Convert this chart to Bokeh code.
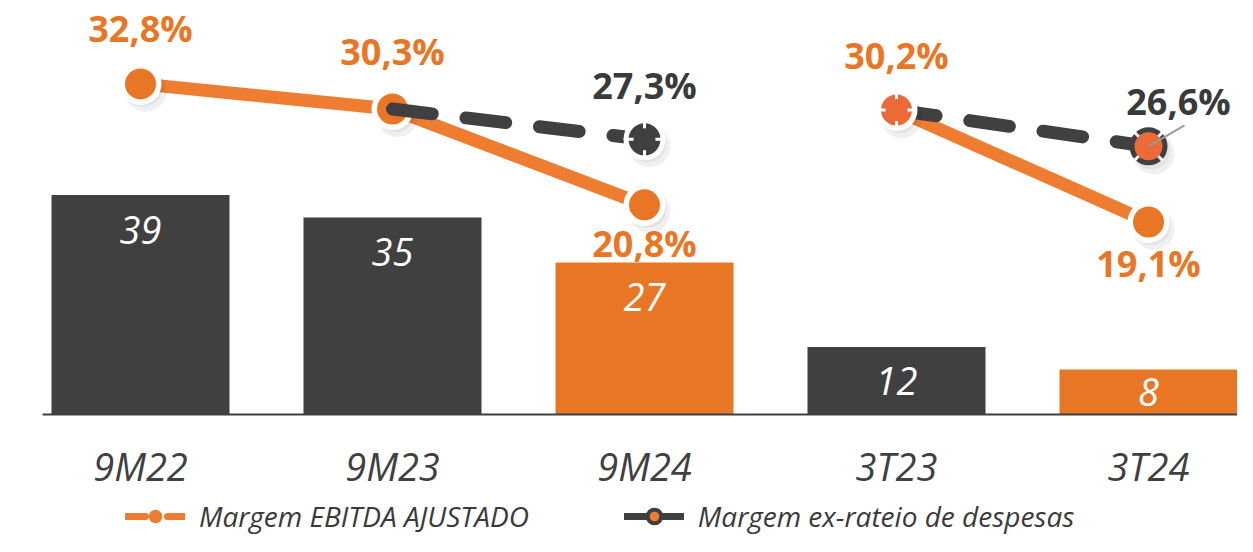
from bokeh.plotting import figure
from bokeh.models import Range1d, Legend, LegendItem
from bokeh.core.properties import value
from bokeh.embed import file_html
from bokeh.resources import INLINE

# ---------------- data ----------------
categorias = ["9M22", "9M23", "9M24", "3T23", "3T24"]
receita = [39, 35, 27, 12, 8]
destaques = ["9M24", "3T24"]

ebitda_9m_periodos = ["9M22", "9M23", "9M24"]
ebitda_9m_valores = [32.8, 30.3, 20.8]
ebitda_3t_periodos = ["3T23", "3T24"]
ebitda_3t_valores = [30.2, 19.1]

ex_9m_periodos = ["9M23", "9M24"]
ex_9m_valores = [30.3, 27.3]
ex_3t_periodos = ["3T23", "3T24"]
ex_3t_valores = [30.2, 26.6]

legendas = ["Margem EBITDA AJUSTADO", "Margem ex-rateio de despesas"]

# ---------------- style ----------------
FONT = "Open Sans"
DARK = "#404040"
ORANGE = "#E97625"
ORANGE_LINE = "#EE7D31"
RED_ORANGE = "#EC6A38"
W, H = 1237, 536
BASE_Y = 414          # baseline position from top (px)
FIRST_X = 140        # first category centre (px)
PX_X = 252.0         # px per category
PX_BAR = 5.63        # px per bar unit
PX_PCT = 10.08       # px per percentage point

idx = {c: i for i, c in enumerate(categorias)}
xs = lambda cats: [idx[c] for c in cats]
fmt = lambda v: f"{v:.1f}".replace(".", ",") + "%"

x_left = -FIRST_X / PX_X
x_right = x_left + W / PX_X

p = figure(width=W, height=H,
           x_range=Range1d(x_left, x_right),
           y_range=Range1d(-(H - BASE_Y) / PX_BAR, BASE_Y / PX_BAR),
           output_backend="svg", toolbar_location=None,
           min_border=0, x_axis_location=None, y_axis_location=None,
           outline_line_color=None, background_fill_color="white",
           border_fill_color="white")
p.extra_y_ranges = {"pct": Range1d(-(H - BASE_Y) / PX_PCT, BASE_Y / PX_PCT)}
p.xgrid.visible = False
p.ygrid.visible = False

# bars
cores = [ORANGE if c in destaques else DARK for c in categorias]
p.vbar(x=xs(categorias), top=receita, bottom=0, width=178 / PX_X, color=cores, line_color=None)
label_y = [max(v - 35 / PX_BAR, v / 2) for v in receita]
p.text(x=xs(categorias), y=label_y, text=[str(v) for v in receita],
       text_align="center", text_baseline="middle", text_color="white",
       text_font=value(FONT), text_font_style="italic", text_font_size="38px")

# category axis (baseline + labels)
p.segment(x0=[x_left + 42 / PX_X], y0=[0], x1=[x_right], y1=[0],
          line_color="#3a4046", line_width=2)
p.text(x=xs(categorias), y=[0] * len(categorias), text=categorias, y_offset=51,
       text_align="center", text_baseline="middle", text_color="#404040",
       text_font=value(FONT), text_font_style="italic", text_font_size="38px")

dx = 5 / PX_X
dy = 7 / PX_PCT


def shadow(xv, yv):
    p.scatter([x + dx for x in xv], [y - dy for y in yv], size=42,
              fill_color="black", fill_alpha=0.06, line_color=None, y_range_name="pct")
    p.scatter([x + dx * 0.6 for x in xv], [y - dy * 0.6 for y in yv], size=38,
              fill_color="black", fill_alpha=0.05, line_color=None, y_range_name="pct")


def orange_marker(xv, yv, color=ORANGE):
    shadow(xv, yv)
    p.scatter(xv, yv, size=42, fill_color="white", line_color=None, y_range_name="pct")
    p.scatter(xv, yv, size=31, fill_color=color, line_color=None, y_range_name="pct")


def notched(xv, yv, color):
    p.scatter(xv, yv, marker="cross", size=34, line_color="white", line_width=3,
              y_range_name="pct")
    p.scatter(xv, yv, size=22, fill_color=color, line_color=None, y_range_name="pct")


# ---- 9M group ----
x9 = xs(ebitda_9m_periodos)
p.line(x9, ebitda_9m_valores, line_width=13, color=ORANGE_LINE, y_range_name="pct")
orange_marker(x9, ebitda_9m_valores)

xe9 = xs(ex_9m_periodos)
p.line(xe9, ex_9m_valores, line_width=13, color=DARK, line_dash="40 34",
       line_cap="round", y_range_name="pct")
shadow(xe9[1:], ex_9m_valores[1:])
p.scatter(xe9[1:], ex_9m_valores[1:], size=42, fill_color="white", line_color=None,
          y_range_name="pct")
p.scatter(xe9[1:], ex_9m_valores[1:], size=32, fill_color=DARK, line_color=None,
          y_range_name="pct")
notched(xe9[1:], ex_9m_valores[1:], DARK)

# ---- 3T group ----
x3 = xs(ebitda_3t_periodos)
p.line(x3, ebitda_3t_valores, line_width=13, color=ORANGE_LINE, y_range_name="pct")
xe3 = xs(ex_3t_periodos)
p.line(xe3, ex_3t_valores, line_width=13, color=DARK, line_dash="40 34",
       line_cap="round", y_range_name="pct")
orange_marker(x3[:1], ebitda_3t_valores[:1], RED_ORANGE)
notched(x3[:1], ebitda_3t_valores[:1], RED_ORANGE)
orange_marker(x3[1:], ebitda_3t_valores[1:])

shadow(xe3[1:], ex_3t_valores[1:])
p.scatter(xe3[1:], ex_3t_valores[1:], size=38, fill_color=DARK, line_color=None,
          y_range_name="pct")
p.scatter(xe3[1:], ex_3t_valores[1:], marker="x", size=40, line_color="white",
          line_width=3, y_range_name="pct")
p.scatter(xe3[1:], ex_3t_valores[1:], size=28, fill_color=RED_ORANGE, line_color=None,
          y_range_name="pct")
# leader line for the last label
p.segment(x0=xe3[1:], y0=ex_3t_valores[1:],
          x1=[x + 36 / PX_X for x in xe3[1:]], y1=[y + 21 / PX_PCT for y in ex_3t_valores[1:]],
          line_color="#9a9a9a", line_width=2, y_range_name="pct")

# ---- percentage labels ----
ABOVE, BELOW = -55, 39


def pct_labels(xv, yv, offs, color, xoffs=None):
    p.text(x=xv, y=yv, text=[fmt(v) for v in yv], x_offset=xoffs or [0] * len(xv),
           y_offset=offs, text_align="center", text_baseline="middle",
           text_color=color, text_font=value(FONT), text_font_style="bold",
           text_font_size="36px", y_range_name="pct")


pct_labels(x9, ebitda_9m_valores, [ABOVE, ABOVE - 3, BELOW], ORANGE)
pct_labels(x3, ebitda_3t_valores, [ABOVE, BELOW + 3], ORANGE)
pct_labels(xe9[1:], ex_9m_valores[1:], [ABOVE + 1], "#3a3a3a")
pct_labels(xe3[1:], ex_3t_valores[1:], [ABOVE + 10], "#3a3a3a", [30])

# ---- legend (proxy renderers drawn outside the visible range) ----
far_x = [x_left - 10, x_left - 9]
far_y = [0, 0]
l1 = p.line(far_x, far_y, line_width=7, color=ORANGE_LINE, line_dash="20 22", line_cap="round")
s1 = p.scatter(far_x, far_y, size=12, fill_color=ORANGE_LINE, line_color=None)
l2 = p.line(far_x, far_y, line_width=7, color=DARK, line_cap="round")
s2 = p.scatter(far_x, far_y, size=14, fill_color=ORANGE_LINE, line_color=DARK, line_width=4)
legend = Legend(items=[LegendItem(label=legendas[0], renderers=[l1, s1]),
                       LegendItem(label=legendas[1], renderers=[l2, s2])],
                location=(125, 1), orientation="horizontal",
                glyph_width=60, glyph_height=34, label_standoff=14, spacing=95,
                padding=0, margin=0, border_line_color=None,
                background_fill_alpha=0,
                label_text_font=FONT, label_text_font_style="italic",
                label_text_font_size="28px", label_text_color="#3a3a3a")
p.add_layout(legend, "center")

open("out.html", "w").write(file_html(p, INLINE))
